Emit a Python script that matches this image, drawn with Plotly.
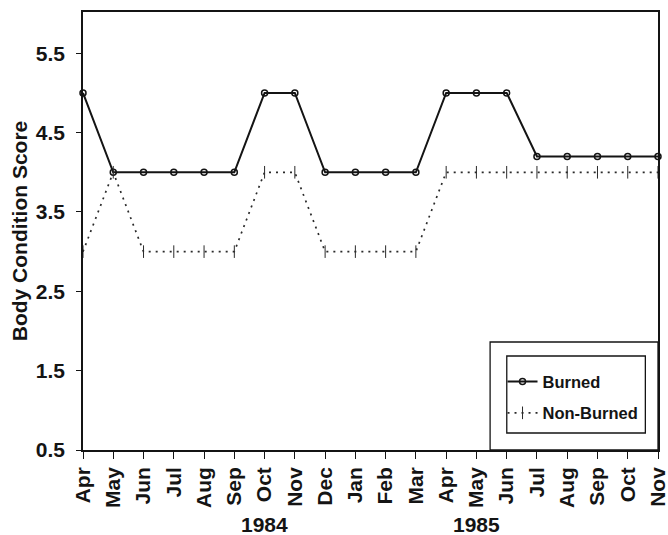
import plotly.graph_objects as go

# Monthly body condition scores, Apr 1984 - Nov 1985
months = ["Apr", "May", "Jun", "Jul", "Aug", "Sep", "Oct", "Nov", "Dec",
          "Jan", "Feb", "Mar", "Apr", "May", "Jun", "Jul", "Aug", "Sep", "Oct", "Nov"]
burned = [5.0, 4.0, 4.0, 4.0, 4.0, 4.0, 5.0, 5.0, 4.0, 4.0,
          4.0, 4.0, 5.0, 5.0, 5.0, 4.2, 4.2, 4.2, 4.2, 4.2]
non_burned = [3.0, 4.0, 3.0, 3.0, 3.0, 3.0, 4.0, 4.0, 3.0, 3.0,
              3.0, 3.0, 4.0, 4.0, 4.0, 4.0, 4.0, 4.0, 4.0, 4.0]
y_ticks = [0.5, 1.5, 2.5, 3.5, 4.5, 5.5]
years = ["1984", "1985"]
year_pos = [6, 13]

x = list(range(len(months)))
ink = "#141414"
family = "Liberation Sans, Arial, sans-serif"
font = dict(family=family, size=21, color=ink)

fig = go.Figure()
fig.add_trace(go.Scatter(
    x=x, y=burned, name="<b>Burned</b>", mode="lines+markers", legendgroup="b",
    line=dict(color=ink, width=2),
    marker=dict(symbol="circle-open", size=6, color=ink, line=dict(width=1.5)),
    cliponaxis=False,
))
fig.add_trace(go.Scatter(
    x=x, y=non_burned, name="<b>Non-Burned</b>", mode="lines+markers", legendgroup="n",
    line=dict(color="#2a2a2a", width=1.7, dash="2px,5px"),
    marker=dict(symbol="line-ns", size=9, color="#2a2a2a", line=dict(width=1, color="#2a2a2a")),
    cliponaxis=False,
))

for label, pos in zip(years, year_pos):
    fig.add_annotation(x=pos, xref="x", y=-0.171, yref="paper", text=f"<b>{label}</b>",
                       showarrow=False, font=font, xanchor="center", yanchor="middle")

# Double frame around the legend
fig.add_shape(type="rect", xref="paper", yref="paper", x0=0.708, x1=1.0, y0=0.0, y1=0.2466,
              line=dict(color=ink, width=1.3), layer="below")
fig.add_shape(type="rect", xref="paper", yref="paper", x0=0.737, x1=0.978, y0=0.0388, y1=0.2146,
              line=dict(color=ink, width=1.3), layer="below")

fig.update_layout(
    width=668, height=535,
    margin=dict(l=83, r=10, t=12, b=85),
    paper_bgcolor="white", plot_bgcolor="white",
    font=font,
    showlegend=True,
    legend=dict(x=0.7296, y=0.196, xanchor="left", yanchor="top",
                bgcolor="rgba(0,0,0,0)", borderwidth=0,
                font=dict(family=family, size=16.5, color=ink),
                itemwidth=30, tracegroupgap=7, traceorder="grouped"),
    xaxis=dict(
        range=[0, len(months) - 1], tickmode="array", tickvals=x,
        ticktext=[f"<b>{m}</b>" for m in months], tickangle=-90,
        ticks="outside", ticklen=7, tickwidth=1.2, tickcolor=ink,
        ticklabeloverflow="allow", automargin=False,
        showline=True, linecolor=ink, linewidth=1.5, mirror=True,
        showgrid=False, zeroline=False, tickfont=font,
    ),
    yaxis=dict(
        range=[0.5, 6.02], tickmode="array", tickvals=y_ticks,
        ticktext=[f"<b>{v}</b>" for v in y_ticks], automargin=False,
        ticks="outside", ticklen=5, tickwidth=1.2, tickcolor=ink,
        ticklabelstandoff=7,
        showline=True, linecolor=ink, linewidth=1.5, mirror=True,
        showgrid=False, zeroline=False, tickfont=font,
        title=dict(text="<b>Body Condition Score</b>", font=font, standoff=2),
    ),
)

fig.write_html("out.html")
